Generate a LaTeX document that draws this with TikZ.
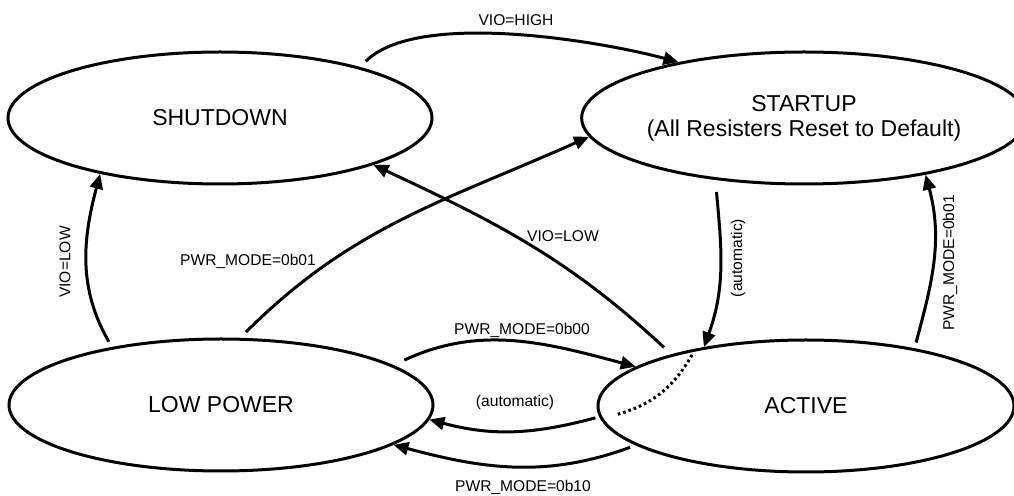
\documentclass[tikz,border=0pt]{standalone}
\usepackage{fontspec}
\setmainfont{Liberation Sans}
\usetikzlibrary{shapes.geometric,arrows.meta}

\begin{document}
\begin{tikzpicture}[x=0.5pt, y=0.5pt]
    \tikzstyle{state} = [ellipse, draw=black, line width=1.5pt, inner sep=0pt, minimum height=66pt, align=center, font=\fontsize{11.5}{12.5}\selectfont]
    \tikzstyle{arrow} = [-{Triangle[length=7.5pt,width=6.5pt]}, line width=1.5pt]
    \tikzstyle{dotline} = [line width=1.5pt, dash pattern=on 1.3pt off 1.5pt]
    \tikzstyle{lbl} = [inner sep=0pt, font=\fontsize{7.8}{9}\selectfont]
    \useasboundingbox (0,0) rectangle (1014,-496);
    % states
    \node[state, minimum width=212pt] (shutdown) at (220,-118) {SHUTDOWN};
    \node[state, minimum width=208pt] (startup) at (804,-118) {STARTUP\\(All Resisters Reset to Default)};
    \node[state, minimum width=212pt] (lowpower) at (221,-405) {LOW POWER};
    \node[state, minimum width=208pt] (active) at (806,-406) {ACTIVE};
    % transitions
    \draw[arrow, shorten <=4pt] (shutdown.20) to[out=45, in=165, looseness=0.65] (startup.156);
    \draw[arrow, shorten <=3pt] (lowpower.152) to[out=120, in=-105] (shutdown.205);
    \draw[arrow, shorten <=4pt] (lowpower.74) to[out=45, in=204] (startup.185);
    \draw[arrow, shorten <=5pt] (active.159) to[out=137, in=-25] (shutdown.343);
    \draw[arrow, shorten <=6pt] (startup.215) to[out=-85, in=70] (active.150);
    \draw[arrow, shorten <=3pt] (active.28) to[out=75, in=-75] (startup.335);
    \draw[arrow, shorten <=6pt] (lowpower.13) to[out=25, in=165] (active.167);
    \draw[arrow, shorten <=2pt] (active.183) to[out=195, in=-15] (lowpower.356);
    \draw[arrow, shorten <=3pt] (active.193) to[out=200, in=-15] (lowpower.347);
    % dotted path inside ACTIVE
    \coordinate (dotS) at (692,-355);
    \coordinate (dotE) at (615,-415);
    \draw[dotline] (dotS) to[out=-120, in=15] (dotE);
    % labels
    \node[lbl] (lHigh) at (516,-20) {VIO=HIGH};
    \node[lbl, rotate=90] (lLowL) at (65,-262) {VIO=LOW};
    \node[lbl] (lModeA) at (248,-261) {PWR\_MODE=0b01};
    \node[lbl] (lLowD) at (563,-236) {VIO=LOW};
    \node[lbl, rotate=90] (lAutoV) at (738,-258) {(automatic)};
    \node[lbl, rotate=90] (lModeB) at (950,-263) {PWR\_MODE=0b01};
    \node[lbl] (lModeC) at (522,-330) {PWR\_MODE=0b00};
    \node[lbl] (lAutoH) at (515,-402) {(automatic)};
    \node[lbl] (lModeD) at (523,-487) {PWR\_MODE=0b10};
\end{tikzpicture}
\end{document}
